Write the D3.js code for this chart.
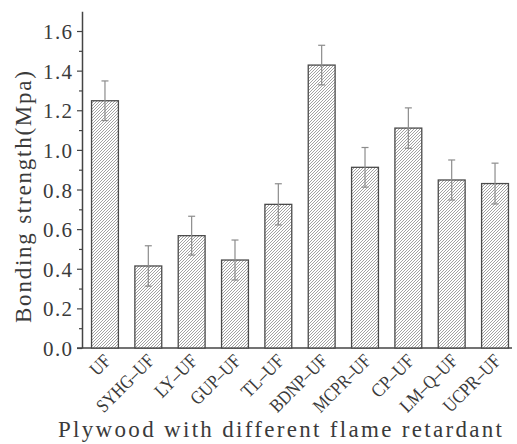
<!DOCTYPE html>
<html>
<head>
<meta charset="utf-8">
<script src="https://cdn.jsdelivr.net/npm/d3@7"></script>
<style>
  body { margin: 0; background: #fff; }
  text { font-family: "Liberation Serif", "DejaVu Serif", serif; fill: #3a3a3a; }
</style>
</head>
<body>
<div id="chart"></div>
<script>

// data
var categories = ["UF", "SYHG-UF", "LY-UF", "GUP-UF", "TL-UF", "BDNP-UF", "MCPR-UF", "CP-UF", "LM-Q-UF", "UCPR-UF"];
var strength = [1.248, 0.414, 0.567, 0.444, 0.725, 1.428, 0.912, 1.110, 0.848, 0.830];
var errors = [0.100, 0.102, 0.098, 0.101, 0.104, 0.100, 0.100, 0.102, 0.101, 0.103];
var yTicks = [0, 0.2, 0.4, 0.6, 0.8, 1.0, 1.2, 1.4, 1.6];

var width = 517, height = 444;
var charW = 10.4;   // the original font is fixed pitch, so squeeze glyphs to that pitch

var svg = d3.select("#chart").append("svg")
	.attr("width", width)
	.attr("height", height);

// hatch fill for the bars
var defs = svg.append("defs");
var pat = defs.append("pattern")
	.attr("id", "hatch")
	.attr("patternUnits", "userSpaceOnUse")
	.attr("width", 3)
	.attr("height", 3);
pat.append("rect").attr("width", 3).attr("height", 3).attr("fill", "#fff");
pat.append("path")
	.attr("d", "M-1,1 L1,-1 M0,3 L3,0 M2,4 L4,2")
	.attr("stroke", "#8a8a8a")
	.attr("stroke-width", 0.8);

// scales
var x = d3.scaleBand()
	.domain(categories)
	.range([82, 518])
	.paddingInner(0.38)
	.paddingOuter(0.22);

var y = d3.scaleLinear()
	.domain([0, 1.7])
	.range([348, 11.2]);

// y axis: minor ticks first, then the labelled ones
var minor = d3.range(0, 17).map(function(i){ return i / 10; }).filter(function(v){ return Math.round(v*10) % 2 === 1; });

svg.append("g")
	.attr("transform", "translate(82,0)")
	.call(d3.axisLeft(y).tickValues(minor).tickSize(3).tickFormat(""))
	.call(function(g){
		g.select(".domain").remove();
		g.selectAll("line").attr("stroke", "#444").attr("stroke-width", 1.2);
	});

var yAxis = svg.append("g")
	.attr("transform", "translate(82,0)")
	.call(d3.axisLeft(y).tickValues(yTicks).tickSize(5).tickSizeOuter(0).tickFormat(d3.format(".1f")));
yAxis.select(".domain").attr("stroke", "#444").attr("stroke-width", 1.5);
yAxis.selectAll("line").attr("stroke", "#444").attr("stroke-width", 1.2);
yAxis.selectAll("text")
	.attr("x", -10)
	.attr("dy", "0.36em")
	.attr("font-size", 21)
	.attr("text-anchor", "end")
	.attr("textLength", 29)
	.attr("lengthAdjust", "spacing");

// x axis line
svg.append("line")
	.attr("x1", 77).attr("x2", 512)
	.attr("y1", y(0)).attr("y2", y(0))
	.attr("stroke", "#444")
	.attr("stroke-width", 1.5);

// bars
svg.append("g").selectAll("rect")
	.data(categories)
	.enter().append("rect")
	.attr("x", function(d){ return x(d); })
	.attr("y", function(d, i){ return y(strength[i]); })
	.attr("width", x.bandwidth())
	.attr("height", function(d, i){ return y(0) - y(strength[i]); })
	.attr("fill", "url(#hatch)")
	.attr("stroke", "#4a4a4a")
	.attr("stroke-width", 1.3);

// error bars
var eb = svg.append("g").selectAll("g")
	.data(categories)
	.enter().append("g")
	.attr("stroke", "#8c8c8c")
	.attr("stroke-width", 1.2);

eb.append("line")
	.attr("x1", function(d){ return x(d) + x.bandwidth()/2; })
	.attr("x2", function(d){ return x(d) + x.bandwidth()/2; })
	.attr("y1", function(d, i){ return y(strength[i] + errors[i]); })
	.attr("y2", function(d, i){ return y(strength[i] - errors[i]); });
eb.append("line")
	.attr("x1", function(d){ return x(d) + x.bandwidth()/2 - 3.5; })
	.attr("x2", function(d){ return x(d) + x.bandwidth()/2 + 3.5; })
	.attr("y1", function(d, i){ return y(strength[i] + errors[i]); })
	.attr("y2", function(d, i){ return y(strength[i] + errors[i]); });
eb.append("line")
	.attr("x1", function(d){ return x(d) + x.bandwidth()/2 - 3.5; })
	.attr("x2", function(d){ return x(d) + x.bandwidth()/2 + 3.5; })
	.attr("y1", function(d, i){ return y(strength[i] - errors[i]); })
	.attr("y2", function(d, i){ return y(strength[i] - errors[i]); });

// rotated category labels (the dash in the original is a long one)
svg.append("g").selectAll("text")
	.data(categories)
	.enter().append("text")
	.attr("font-size", 19)
	.attr("text-anchor", "end")
	.attr("textLength", function(d){ return d.length * charW; })
	.attr("lengthAdjust", "spacingAndGlyphs")
	.attr("transform", function(d){
		return "translate(" + (x(d) + x.bandwidth()/2 + 7) + "," + (y(0) + 14) + ") rotate(-45)";
	})
	.text(function(d){ return d.replace(/-/g, "\u2013"); });

// axis titles
svg.append("text")
	.attr("font-size", 23)
	.attr("text-anchor", "middle")
	.attr("x", 280)
	.attr("y", 437)
	.attr("textLength", 444)
	.attr("lengthAdjust", "spacing")
	.text("Plywood with different flame retardant");

svg.append("text")
	.attr("font-size", 23)
	.attr("text-anchor", "middle")
	.attr("transform", "translate(31,197) rotate(-90)")
	.attr("textLength", 252)
	.attr("lengthAdjust", "spacing")
	.text("Bonding strength(Mpa)");

</script>
</body>
</html>
